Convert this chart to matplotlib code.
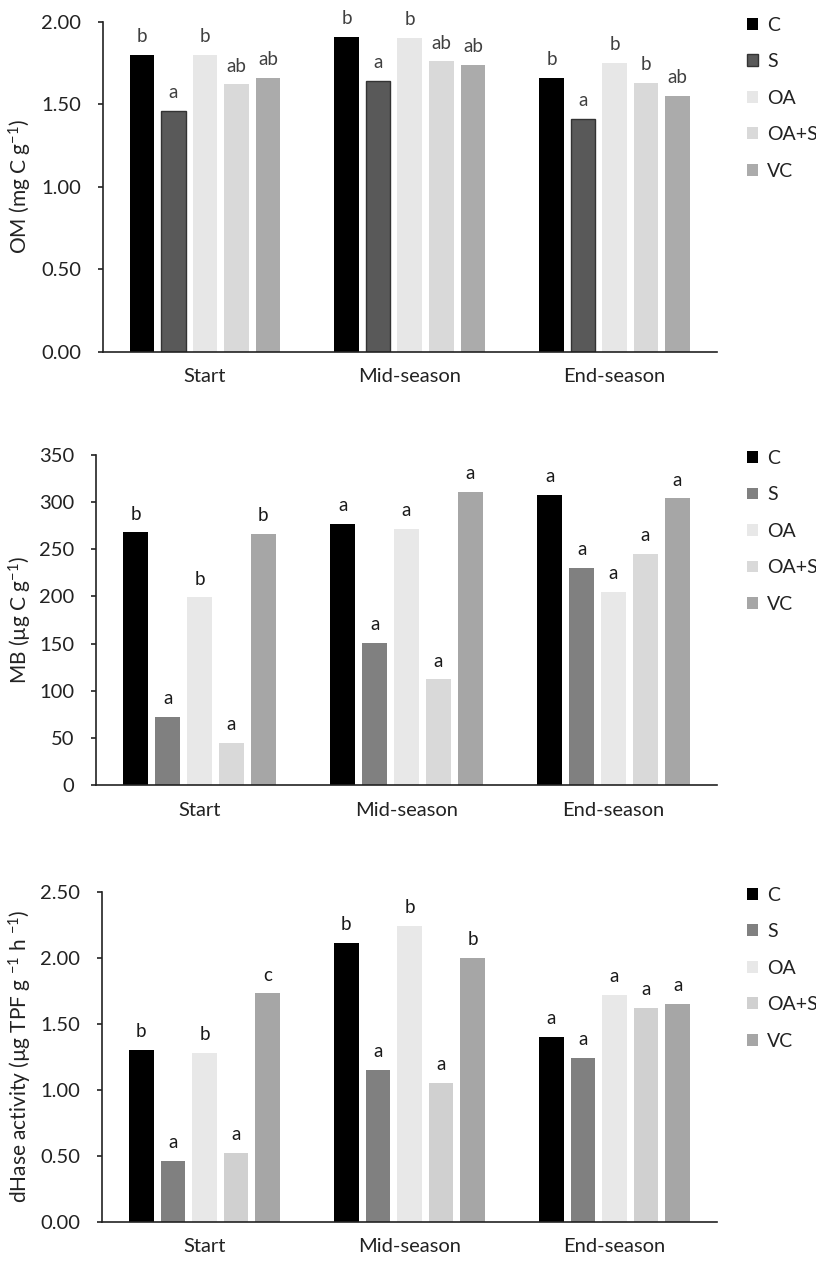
import matplotlib
matplotlib.use('Agg')
import numpy as np
import matplotlib.pyplot as plt
from matplotlib.patches import Patch

plt.rcParams['font.family'] = ['Lato', 'DejaVu Sans']
plt.rcParams['mathtext.default'] = 'regular'

# x categories and treatments
periods = ['Start', 'Mid-season', 'End-season']
treatments = ['C', 'S', 'OA', 'OA+S', 'VC']

# OM (mg C g-1), rows = treatments, cols = periods
om_vals = [[1.80, 1.91, 1.66],
           [1.46, 1.64, 1.41],
           [1.80, 1.90, 1.75],
           [1.62, 1.76, 1.63],
           [1.66, 1.74, 1.55]]
om_letters = [['b', 'b', 'b'],
              ['a', 'a', 'a'],
              ['b', 'b', 'b'],
              ['ab', 'ab', 'b'],
              ['ab', 'ab', 'ab']]

# MB (ug C g-1)
mb_vals = [[268, 277, 308],
           [72, 151, 230],
           [199, 272, 205],
           [45, 112, 245],
           [266, 311, 304]]
mb_letters = [['b', 'a', 'a'],
              ['a', 'a', 'a'],
              ['b', 'a', 'a'],
              ['a', 'a', 'a'],
              ['b', 'a', 'a']]

# dHase activity
dh_vals = [[1.30, 2.11, 1.40],
           [0.46, 1.15, 1.24],
           [1.28, 2.24, 1.72],
           [0.52, 1.05, 1.62],
           [1.73, 2.00, 1.65]]
dh_letters = [['b', 'b', 'a'],
              ['a', 'a', 'a'],
              ['b', 'b', 'a'],
              ['a', 'a', 'a'],
              ['c', 'b', 'a']]

W, H = 816, 1262
fig = plt.figure(figsize=(W / 100, H / 100), dpi=100)


def panel(left_px, top_px, vals, letters, colors, ylabel, ylim, yticks, fmt,
          letter_color, s_edge=None):
    right_px = 717
    ax = fig.add_axes([left_px / W, 1 - (top_px + 330) / H,
                       (right_px - left_px) / W, 330 / H])
    x = np.arange(len(periods))
    for j, name in enumerate(treatments):
        pos = x + (j - 2) * 0.154
        ec = s_edge if (j == 1 and s_edge) else 'none'
        ax.bar(pos, vals[j], width=0.12, color=colors[j], edgecolor=ec,
               linewidth=1.0)
        for k in range(len(periods)):
            ax.annotate(letters[j][k], (pos[k], vals[j][k]),
                        xytext=(0, 7), textcoords='offset points',
                        ha='center', va='bottom', fontsize=13.5,
                        color=letter_color)
    ax.set_xlim(-0.5, 2.5)
    ax.set_ylim(*ylim)
    ax.set_yticks(yticks)
    ax.set_yticklabels([fmt.format(t) for t in yticks])
    ax.set_xticks(x)
    ax.set_xticklabels(periods)
    for s in ['top', 'right']:
        ax.spines[s].set_visible(False)
    for s in ['left', 'bottom']:
        ax.spines[s].set_linewidth(1.2)
        ax.spines[s].set_color('#222222')
    ax.tick_params(axis='x', length=0, pad=12, labelsize=14.5, colors='#222222')
    ax.tick_params(axis='y', length=3.5, width=1.2, pad=12, labelsize=14.5,
                   colors='#222222')
    ax.set_ylabel(ylabel, fontsize=15, color='#222222')
    ax.yaxis.set_label_coords((34 - left_px) / (right_px - left_px), 0.5)
    handles = [Patch(facecolor=colors[j],
                     edgecolor=(s_edge if (j == 1 and s_edge) else 'none'))
               for j in range(len(treatments))]
    ax.legend(handles, treatments, loc='upper left',
              bbox_to_anchor=((747 - left_px) / (right_px - left_px), 1.015),
              frameon=False, fontsize=14, borderaxespad=0, borderpad=0,
              handlelength=0.55, handleheight=0.55, handletextpad=0.5,
              labelspacing=1.0, labelcolor='#222222')
    return ax


panel(102.5, 21.7, om_vals, om_letters,
      ['#000000', '#595959', '#E7E7E7', '#D9D9D9', '#ABABAB'],
      'OM (mg C g$^{-1}$)', (0, 2.0), [0, 0.5, 1.0, 1.5, 2.0], '{:.2f}',
      '#404040', s_edge='#333333')

panel(96, 455, mb_vals, mb_letters,
      ['#000000', '#808080', '#E8E8E8', '#D9D9D9', '#A6A6A6'],
      'MB (µg C g$^{-1}$)', (0, 350), [0, 50, 100, 150, 200, 250, 300, 350],
      '{:.0f}', '#1a1a1a')

panel(102, 891.7, dh_vals, dh_letters,
      ['#000000', '#808080', '#E8E8E8', '#D0D0D0', '#A6A6A6'],
      'dHase activity (µg TPF g $^{-1}$ h $^{-1}$)', (0, 2.5),
      [0, 0.5, 1.0, 1.5, 2.0, 2.5], '{:.2f}', '#1a1a1a')

fig.savefig('out.png', dpi=100)
